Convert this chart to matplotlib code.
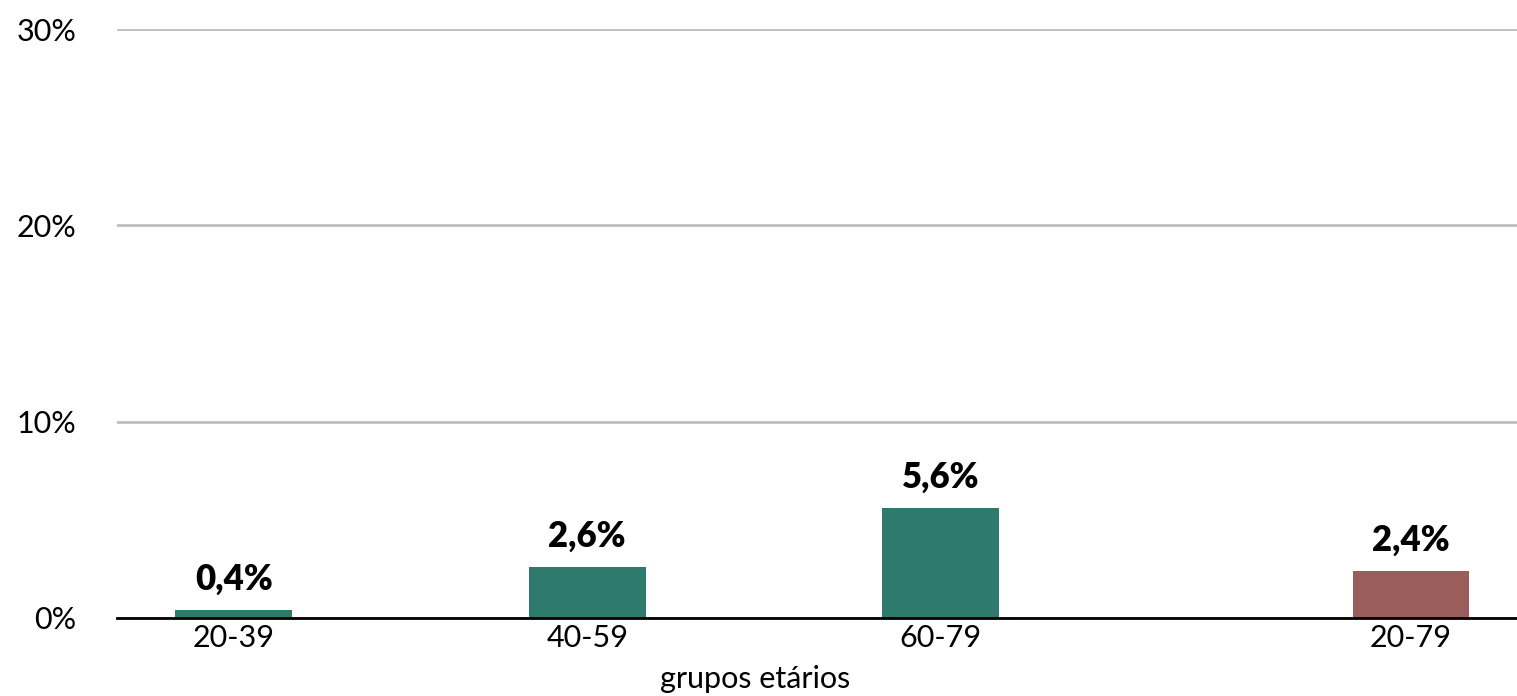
import matplotlib.pyplot as plt
import numpy as np

grupos = ['20-39', '40-59', '60-79', '20-79']
valores = [0.4, 2.6, 5.6, 2.4]
rotulos = ['0,4%', '2,6%', '5,6%', '2,4%']
cores = ['#2e7a6c', '#2e7a6c', '#2e7a6c', '#9b5c5c']
posicoes = [0, 1, 2, 3.33]

plt.rcParams['font.family'] = ['Lato', 'DejaVu Sans']

fig = plt.figure(figsize=(15.17, 6.96), dpi=100)
ax = fig.add_axes([0.0771, 0.1121, 0.9229, 0.8462])

ax.bar(posicoes, valores, width=0.33, color=cores, zorder=3)
for x, v, r in zip(posicoes, valores, rotulos):
    ax.annotate(r, (x, v), xytext=(0, 10), textcoords='offset points',
                ha='center', va='bottom', fontsize=25, fontweight='heavy')

ax.set_ylim(0, 30)
ax.set_xlim(-0.33, 3.63)
ax.set_yticks([0, 10, 20, 30])
ax.set_yticklabels(['0%', '10%', '20%', '30%'], fontsize=22)
ax.set_xticks(posicoes)
ax.set_xticklabels(grupos, fontsize=22)
ax.tick_params(length=0, pad=4)
ax.tick_params(axis='y', pad=29)

ax.grid(axis='y', color='#bfbfbf', linewidth=2, zorder=0)
for s in ['top', 'right', 'left']:
    ax.spines[s].set_visible(False)
ax.spines['bottom'].set_linewidth(2)
ax.spines['bottom'].set_zorder(4)

fig.text(0.498, 0.004, 'grupos etários', ha='center', va='bottom', fontsize=22)

fig.savefig('out.png')
